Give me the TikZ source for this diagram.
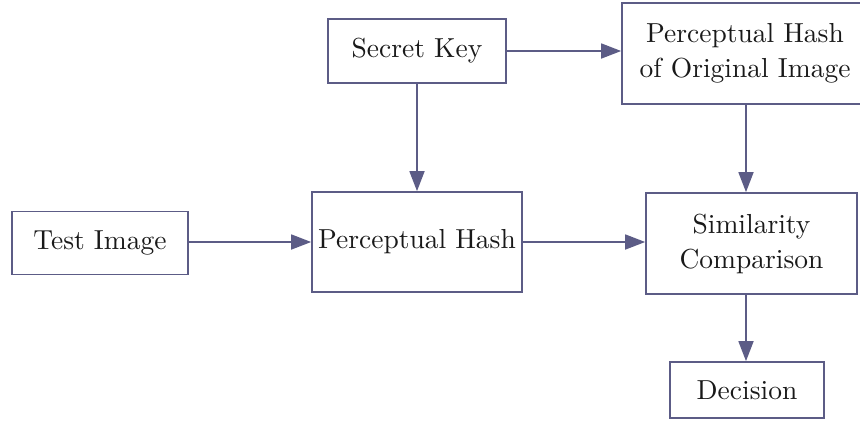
\documentclass[tikz,border=0pt]{standalone}
\usepackage{fontspec}
\newfontfamily\labelface{lmroman10-regular.otf}
\usetikzlibrary{arrows.meta}
\definecolor{edgeblue}{RGB}{92,92,134}
\definecolor{inkblack}{RGB}{25,25,25}
\tikzset{
  blockbox/.style={draw=edgeblue, line width=1.7pt, rectangle, inner sep=0pt,
    align=center, text=inkblack,
    font=\labelface\fontsize{27.5}{35}\selectfont},
  flow/.style={draw=edgeblue, line width=1.7pt,
    -{Triangle[length=20pt, width=15pt, fill=edgeblue]}}
}
\begin{document}
\begin{tikzpicture}[x=1pt, y=-1pt]
  \useasboundingbox (0,0) rectangle (860,421);
  \clip (0,0) rectangle (860,421);

  % processing blocks
  \node[blockbox, minimum width=178pt, minimum height=64pt] (key) at (417,51) {Secret Key};
  \node[blockbox, minimum width=246pt, minimum height=101pt] (orig) at (745,53.5)
    {Perceptual Hash\\of Original Image};
  \node[blockbox, minimum width=176pt, minimum height=63pt] (test) at (100,243) {Test Image};
  \node[blockbox, minimum width=210pt, minimum height=100pt] (hash) at (417,242) {Perceptual Hash};
  \node[blockbox, minimum width=211pt, minimum height=101pt] (sim) at (751.5,243.5)
    {Similarity\\Comparison};
  \node[blockbox, minimum width=154pt, minimum height=56pt] (dec) at (747,390) {Decision};

  % data flow
  \draw[flow] (key.east) -- (key.east -| orig.west);
  \draw[flow] (key.south) -- (hash.north);
  \draw[flow] (test.east |- hash.west) -- (hash.west);
  \draw[flow] (hash.east) -- (hash.east -| sim.west);
  \draw[flow] (orig.south -| 746,0) -- (sim.north -| 746,0);
  \draw[flow] (sim.south -| 746,0) -- (dec.north -| 746,0);
\end{tikzpicture}
\end{document}
